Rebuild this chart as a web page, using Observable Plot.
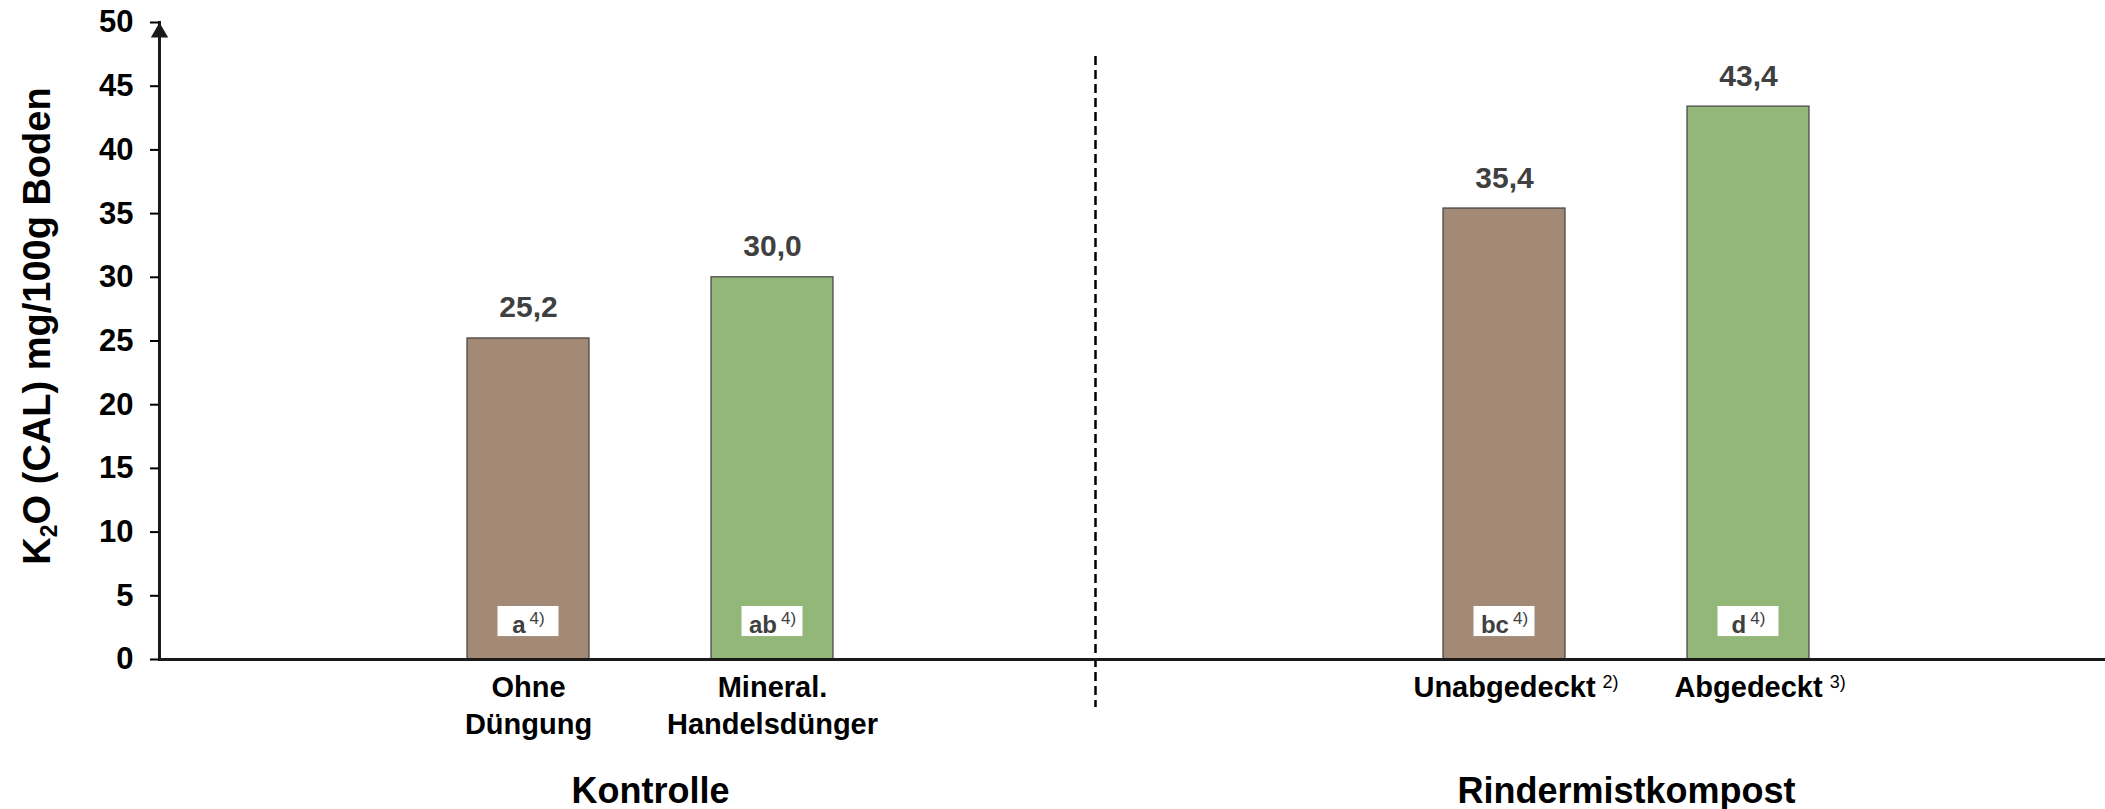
<!DOCTYPE html>
<html>
<head>
<meta charset="utf-8">
<script src="https://cdn.jsdelivr.net/npm/d3@7"></script>
<script src="https://cdn.jsdelivr.net/npm/@observablehq/plot@0.6"></script>
<style>
  html, body { margin: 0; padding: 0; background: #fff; }
  #chart svg { display: block; }
</style>
</head>
<body>
<div id="chart"></div>
<script>
// ---- data ----
const categories = ["Ohne Düngung", "Mineral. Handelsdünger", "Unabgedeckt", "Abgedeckt"];
const tickLabels = ["Ohne\nDüngung", "Mineral.\nHandelsdünger", "Unabgedeckt", "Abgedeckt"];
const tickNotes = ["", "", "2)", "3)"];
const values = [25.2, 30.0, 35.4, 43.4];
const letters = ["a", "ab", "bc", "d"];
const letterNote = "4)";
const kinds = ["ohne", "mit", "ohne", "mit"];
const groups = ["Kontrolle", "Rindermistkompost"];
const groupFirst = ["Ohne Düngung", "Unabgedeckt"];
const yTicks = [0, 5, 10, 15, 20, 25, 30, 35, 40, 45, 50];
const yTitle = "K_{2}O (CAL) mg/100g Boden";
const spacers = ["_a", "_b", "_c", "_d"];

const slots = [spacers[0], categories[0], categories[1], spacers[1], spacers[2], categories[2], categories[3], spacers[3]];
const rows = categories.map((c, i) => ({
  category: c, value: values[i], letter: letters[i], kind: kinds[i],
  tick: tickLabels[i], note: tickNotes[i]
}));
const fmt = v => v.toFixed(1).replace(".", ",");

const chart = Plot.plot({
  width: 2105,
  height: 809,
  marginTop: 22,
  marginBottom: 150,
  marginLeft: 159,
  marginRight: 0,
  style: {fontFamily: "'Liberation Sans', Arial, sans-serif", background: "#fff", color: "#000", overflow: "visible"},
  x: {type: "band", domain: slots, range: [161, 2114], paddingInner: 0.5, paddingOuter: 0.25, axis: null},
  y: {domain: [0, 50], axis: null},
  color: {domain: ["ohne", "mit"], range: ["#A38A76", "#93B778"]},
  marks: [
    Plot.ruleX([spacers[1]], {x: d => d, dx: 79, insetTop: 34, insetBottom: -48,
      stroke: "#000", strokeWidth: 2.5, strokeDasharray: "9,5"}),
    Plot.barY(rows, {x: "category", y: "value", fill: "kind", stroke: "#404040", strokeWidth: 1.2}),
    Plot.barY(rows, {x: "category", y1: () => 1.8, y2: () => 4.16, fill: "#fff",
      insetLeft: 30.5, insetRight: 30.5}),
    Plot.text(rows, {x: "category", y: () => 2.98, text: d => d.letter + "^{" + letterNote + "}",
      dy: 3.5, fontSize: 24, fontWeight: "bold", fill: "#404040"}),
    Plot.text(rows, {x: "category", y: "value", text: d => fmt(d.value), lineAnchor: "bottom",
      dy: -21, fontSize: 30, fontWeight: "bold", fill: "#404040"}),
    Plot.ruleY([0], {stroke: "#1a1a1a", strokeWidth: 3}),
    Plot.frame({anchor: "left", stroke: "#1a1a1a", strokeWidth: 3}),
    Plot.axisY({ticks: yTicks, tickSize: 9, tickPadding: 17, fontSize: 31, fontWeight: "bold",
      strokeWidth: 2, label: null}),
    Plot.dot([50], {y: d => d, frameAnchor: "left", symbol: "triangle", r: 6.43, dy: 10,
      fill: "#1a1a1a", stroke: "none"}),
    Plot.text(rows, {x: "category", text: d => d.tick + (d.note ? "^{" + d.note + "}" : ""),
      frameAnchor: "bottom", dy: 11, lineAnchor: "top", lineHeight: 1.28, fontSize: 29,
      fontWeight: "bold", fill: "#000"}),
    Plot.text(groups, {x: (d, i) => groupFirst[i], text: d => d, dx: 122, frameAnchor: "bottom",
      dy: 143, lineAnchor: "bottom", fontSize: 36, fontWeight: "bold", fill: "#000"}),
    Plot.text([yTitle], {text: d => d, frameAnchor: "left", textAnchor: "middle", rotate: -90,
      dx: -122, dy: -15, fontSize: 38, fontWeight: "bold", fill: "#000"})
  ]
});

document.getElementById("chart").append(chart);

// ---- super/subscript markup ----
const NS = "http://www.w3.org/2000/svg";
function markup(textEl, o) {
  const s = textEl.textContent;
  textEl.textContent = "";
  const re = /([\^_])\{([^}]*)\}/g;
  let last = 0, m, offset = 0, first = null, sup = null;
  const add = (str, attrs) => {
    const t = document.createElementNS(NS, "tspan");
    for (const k in attrs) t.setAttribute(k, attrs[k]);
    t.textContent = str;
    textEl.appendChild(t);
    return t;
  };
  while ((m = re.exec(s))) {
    if (m.index > last) {
      const t = add(s.slice(last, m.index), offset ? {dy: -offset} : {});
      offset = 0;
      first = first || t;
    }
    if (m[1] === "^") {
      sup = add(m[2], {"font-size": o.supSize, "font-weight": "normal", dx: o.supGap, dy: -o.supRaise});
      offset = -o.supRaise;
    } else {
      add(m[2], {"font-size": o.subSize, dy: o.subDrop});
      offset = o.subDrop;
    }
    last = re.lastIndex;
  }
  if (last < s.length) add(s.slice(last), offset ? {dy: -offset} : {});
  if (o.hanging && first && sup) {
    const w = first.getComputedTextLength();
    const x0 = parseFloat(textEl.getAttribute("x")) || 0;
    sup.removeAttribute("dx");
    sup.setAttribute("x", x0 + w / 2 + o.supGap);
    sup.setAttribute("text-anchor", "start");
  }
}
chart.querySelectorAll("text").forEach(t => {
  if (t.querySelector("tspan")) return;
  if (!/[\^_]\{/.test(t.textContent)) return;
  const size = parseFloat(getComputedStyle(t).fontSize);
  if (size < 26) markup(t, {supSize: 17, supRaise: 9, supGap: 4});
  else if (size < 33) markup(t, {supSize: 18, supRaise: 9, supGap: 7, hanging: true});
  else markup(t, {subSize: 23, subDrop: 7});
});
</script>
</body>
</html>
